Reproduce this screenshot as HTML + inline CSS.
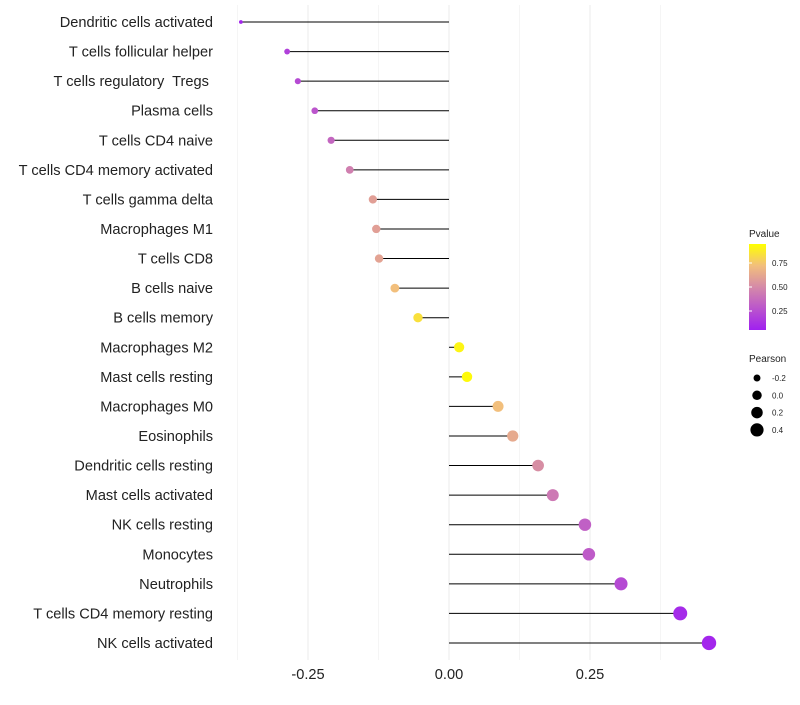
<!DOCTYPE html>
<html><head><meta charset="utf-8"><style>
body{margin:0;background:#fff;font-family:"Liberation Sans",sans-serif}
text{white-space:pre}
</style></head><body>
<svg id="c" width="800" height="700" xmlns="http://www.w3.org/2000/svg">
<defs><linearGradient id="pg" x1="0" y1="1" x2="0" y2="0">
<stop offset="0" stop-color="#a020f0"/><stop offset="0.5" stop-color="#d58aa8"/><stop offset="0.75" stop-color="#f2bf7c"/><stop offset="1" stop-color="#ffff00"/></linearGradient></defs>
<g id="grid"></g><g id="marks"></g><g id="labels"></g><g id="legend"></g>
</svg>
<script>
const cells=["Dendritic cells activated","T cells follicular helper","T cells regulatory  Tregs ","Plasma cells","T cells CD4 naive","T cells CD4 memory activated","T cells gamma delta","Macrophages M1","T cells CD8","B cells naive","B cells memory","Macrophages M2","Mast cells resting","Macrophages M0","Eosinophils","Dendritic cells resting","Mast cells activated","NK cells resting","Monocytes","Neutrophils","T cells CD4 memory resting","NK cells activated"];
const pearson=[-0.369,-0.287,-0.268,-0.238,-0.209,-0.176,-0.135,-0.129,-0.124,-0.096,-0.055,0.018,0.032,0.087,0.113,0.158,0.184,0.241,0.248,0.305,0.410,0.461];
const pvalue=[0.03,0.15,0.2,0.25,0.33,0.45,0.6,0.6,0.62,0.75,0.88,0.96,0.98,0.75,0.65,0.52,0.42,0.3,0.28,0.2,0.05,0.03];
const xTicks=[-0.25,0,0.25];
const xTickLabels=["-0.25","0.00","0.25"];
const pTicks=[0.25,0.5,0.75];
const sizeTicks=[-0.2,0,0.2,0.4];
const NS="http://www.w3.org/2000/svg";
const xS=v=>449+v*564;
const yS=i=>22+i*29.57;
const rS=v=>Math.sqrt(Math.max(1,25+58*v));
function lerp(a,b,t){return a.map((x,i)=>Math.round(x+(b[i]-x)*t));}
const stops=[[0,[160,32,240]],[0.5,[213,138,168]],[0.75,[242,191,124]],[1,[255,255,0]]];
function col(p){for(let i=1;i<stops.length;i++){if(p<=stops[i][0]){const t=(p-stops[i-1][0])/(stops[i][0]-stops[i-1][0]);const c=lerp(stops[i-1][1],stops[i][1],t);return `rgb(${c})`;}}return "rgb(255,255,0)";}
function mk(t,a,parent){const e=document.createElementNS(NS,t);for(const k in a)e.setAttribute(k,a[k]);document.getElementById(parent).appendChild(e);return e;}
for(let v=-0.375;v<=0.4;v+=0.125){const e=mk("line",{x1:xS(v),x2:xS(v),y1:5,y2:660,stroke:"#ebebeb","stroke-width":Math.abs((v*8)%2)>0.5?0.5:1},"grid");

}
xTicks.forEach((v,i)=>{const t=mk("text",{x:xS(v),y:679,"text-anchor":"middle","font-size":14.6,fill:"#222"},"labels");t.textContent=xTickLabels[i];

});
cells.forEach((c,i)=>{const y=yS(i);
const l=mk("line",{x1:xS(0),x2:xS(pearson[i]),y1:y,y2:y,stroke:"#000","stroke-width":1},"marks");


const d=mk("circle",{cx:xS(pearson[i]),cy:y,r:rS(pearson[i]),fill:col(pvalue[i])},"marks");


const t=mk("text",{x:213,y:y+5,"text-anchor":"end","font-size":14.6,fill:"#222"},"labels");t.textContent=c;

});
const lt=mk("text",{x:749,y:237,"font-size":10,fill:"#222"},"legend");lt.textContent="Pvalue";


const cb=mk("rect",{x:749,y:244,width:17,height:86,fill:"url(#pg)"},"legend");


const pY=p=>335-p*96;
pTicks.forEach(p=>{const t=mk("text",{x:772,y:pY(p)+3,"font-size":8,fill:"#222"},"legend");t.textContent=p.toFixed(2);


const a=mk("line",{x1:749,x2:752,y1:pY(p),y2:pY(p),stroke:"#fff"},"legend");});
const st=mk("text",{x:749,y:362,"font-size":10,fill:"#222"},"legend");st.textContent="Pearson";


sizeTicks.forEach((v,i)=>{const y=378+i*17.3;
const c=mk("circle",{cx:757,cy:y,r:rS(v)*0.95,fill:"#000"},"legend");


const t=mk("text",{x:772,y:y+3,"font-size":8,fill:"#222"},"legend");t.textContent=v.toFixed(1);

});
</script>
</body></html>
